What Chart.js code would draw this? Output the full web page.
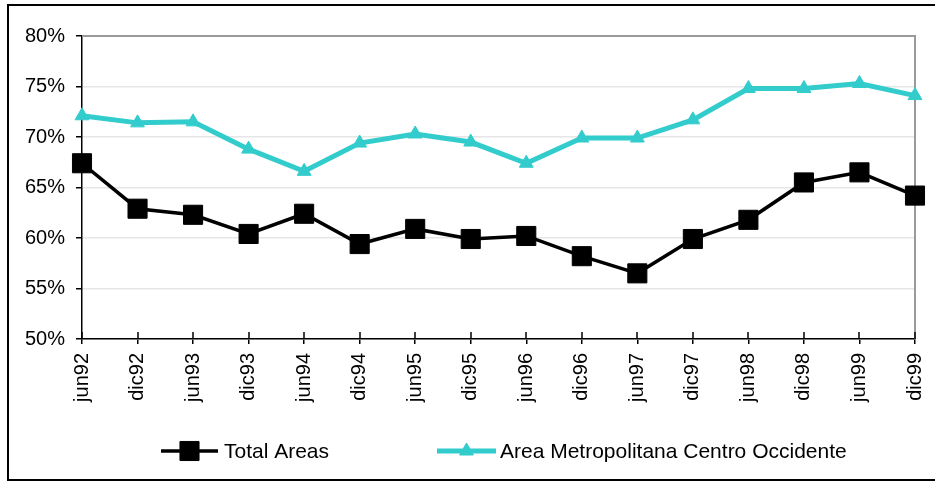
<!DOCTYPE html>
<html>
<head>
<meta charset="utf-8">
<script src="https://cdn.jsdelivr.net/npm/chart.js@4"></script>
<style>
  html, body { margin: 0; padding: 0; background: #ffffff; }
  #wrap { width: 935px; height: 481px; position: relative; }
</style>
</head>
<body>
<div id="wrap"><canvas id="c" width="935" height="481"></canvas></div>
<script>
const categories = ['jun92','dic92','jun93','dic93','jun94','dic94','jun95','dic95','jun96','dic96','jun97','dic97','jun98','dic98','jun99','dic99'];
const totalAreas = [67.4, 62.9, 62.3, 60.4, 62.4, 59.4, 60.9, 59.9, 60.2, 58.2, 56.5, 59.9, 61.8, 65.5, 66.5, 64.2];
const areaMetropolitana = [72.1, 71.4, 71.5, 68.8, 66.6, 69.4, 70.3, 69.5, 67.4, 69.9, 69.9, 71.7, 74.8, 74.8, 75.3, 74.1];
const seriesNames = ['Total Areas', 'Area Metropolitana Centro Occidente'];
const yMin = 50, yMax = 80, yStep = 5;

const FONT = '"Liberation Sans", Arial, sans-serif';
const TEAL = '#33CCCC';

const framePlugin = {
  id: 'frame',
  beforeDatasetsDraw(chart) {
    const ctx = chart.ctx, a = chart.chartArea;
    ctx.save();
    ctx.strokeStyle = '#9a9a9a';
    ctx.lineWidth = 2;
    ctx.beginPath();
    ctx.moveTo(a.left, a.top);
    ctx.lineTo(a.right, a.top);
    ctx.lineTo(a.right, a.bottom);
    ctx.stroke();
    const xs = chart.scales.x;
    ctx.strokeStyle = '#000';
    ctx.lineWidth = 1.5;
    ctx.beginPath();
    for (let i = 0; i < xs.ticks.length; i++) {
      const px = Math.round(xs.getPixelForTick(i));
      ctx.moveTo(px, a.bottom);
      ctx.lineTo(px, a.bottom - 7);
    }
    ctx.stroke();
    ctx.restore();
  },
  afterDraw(chart) {
    const ctx = chart.ctx;
    ctx.save();
    ctx.strokeStyle = '#000';
    ctx.lineWidth = 2;
    ctx.beginPath();
    ctx.moveTo(935, 5);
    ctx.lineTo(8, 5);
    ctx.lineTo(8, 480);
    ctx.lineTo(935, 480);
    ctx.stroke();

    const items = [
      { ds: chart.data.datasets[0], x0: 161, x1: 218, tx: 224 },
      { ds: chart.data.datasets[1], x0: 437, x1: 496, tx: 500 }
    ];
    const ly = 451;
    items.forEach(it => {
      const ds = it.ds;
      ctx.strokeStyle = ds.borderColor;
      ctx.lineWidth = ds.borderWidth;
      ctx.beginPath();
      ctx.moveTo(it.x0, ly);
      ctx.lineTo(it.x1, ly);
      ctx.stroke();
      ctx.fillStyle = ds.pointBackgroundColor;
      ctx.strokeStyle = ds.pointBorderColor;
      ctx.lineWidth = ds.pointBorderWidth;
      Chart.helpers.drawPoint(ctx, {
        pointStyle: ds.pointStyle,
        radius: ds.pointRadius,
        borderWidth: ds.pointBorderWidth,
        rotation: 0
      }, (it.x0 + it.x1) / 2, ly);
      ctx.fillStyle = '#000';
      ctx.font = '21px ' + FONT;
      ctx.textAlign = 'left';
      ctx.textBaseline = 'middle';
      ctx.fillText(ds.label, it.tx, ly + 1);
    });
    ctx.restore();
  }
};

new Chart(document.getElementById('c'), {
  type: 'line',
  data: {
    labels: categories,
    datasets: [
      {
        label: seriesNames[0],
        data: totalAreas,
        borderColor: '#000000',
        borderWidth: 3.5,
        pointStyle: 'rect',
        pointRadius: 13.5,
        pointHoverRadius: 13.5,
        pointBackgroundColor: '#000000',
        pointBorderColor: '#000000',
        pointBorderWidth: 1,
        tension: 0,
        clip: false,
        order: 1
      },
      {
        label: seriesNames[1],
        data: areaMetropolitana,
        borderColor: TEAL,
        borderWidth: 5,
        pointStyle: 'triangle',
        pointRadius: 8,
        pointHoverRadius: 8,
        pointBackgroundColor: TEAL,
        pointBorderColor: TEAL,
        pointBorderWidth: 1,
        tension: 0,
        clip: false,
        order: 2
      }
    ]
  },
  options: {
    responsive: false,
    animation: false,
    events: [],
    layout: { padding: { left: 0, top: 36, right: 20, bottom: 42 } },
    plugins: {
      legend: { display: false },
      title: { display: false },
      tooltip: { enabled: false }
    },
    scales: {
      x: {
        type: 'category',
        offset: false,
        afterFit(scale) { scale.height = 100; scale.paddingRight = 0; scale.paddingLeft = 0; },
        grid: {
          drawOnChartArea: false,
          drawTicks: true,
          tickLength: 5,
          tickColor: '#000',
          lineWidth: 1.5
        },
        border: { color: '#000', width: 1.5 },
        ticks: {
          color: '#000',
          font: { family: FONT, size: 20 },
          minRotation: 90,
          maxRotation: 90,
          padding: 9,
          autoSkip: false
        }
      },
      y: {
        min: yMin,
        max: yMax,
        afterFit(scale) { scale.width = 82; scale.paddingTop = 0; scale.paddingBottom = 0; },
        grid: {
          color: '#e6e6e6',
          lineWidth: 1.5,
          drawTicks: true,
          tickLength: 6,
          tickColor: '#000'
        },
        border: { color: '#000', width: 1.5 },
        ticks: {
          stepSize: yStep,
          color: '#000',
          font: { family: FONT, size: 20 },
          padding: 11,
          callback: v => v + '%'
        }
      }
    }
  },
  plugins: [framePlugin]
});
</script>
</body>
</html>
